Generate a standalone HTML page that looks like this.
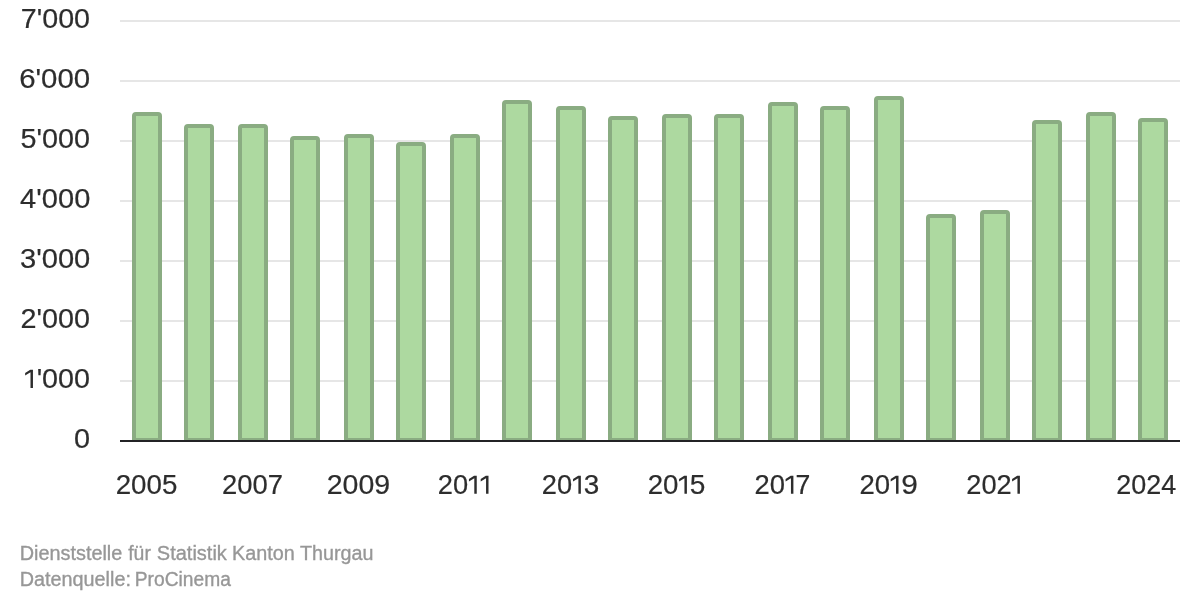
<!DOCTYPE html>
<html lang="de"><head><meta charset="utf-8"><title>Chart</title>
<style>
html,body{margin:0;padding:0;background:#fff;}
body{width:1200px;height:600px;overflow:hidden;}
svg{display:block;will-change:transform;}
text{font-family:"Liberation Sans",sans-serif;}
</style></head><body>
<svg width="1200" height="600" viewBox="0 0 1200 600">
<rect width="1200" height="600" fill="#ffffff"/>
<g>
<rect x="120" y="380" width="1060" height="2" fill="#e6e6e6"/>
<rect x="120" y="320" width="1060" height="2" fill="#e6e6e6"/>
<rect x="120" y="260" width="1060" height="2" fill="#e6e6e6"/>
<rect x="120" y="200" width="1060" height="2" fill="#e6e6e6"/>
<rect x="120" y="140" width="1060" height="2" fill="#e6e6e6"/>
<rect x="120" y="80" width="1060" height="2" fill="#e6e6e6"/>
<rect x="120" y="20" width="1060" height="2" fill="#e6e6e6"/>
</g>
<g fill="#add9a0" stroke="#8aac82" stroke-width="4">
<path d="M134 440V116a2 2 0 0 1 2 -2H158a2 2 0 0 1 2 2V440Z"/>
<path d="M186 440V128a2 2 0 0 1 2 -2H210a2 2 0 0 1 2 2V440Z"/>
<path d="M240 440V128a2 2 0 0 1 2 -2H264a2 2 0 0 1 2 2V440Z"/>
<path d="M292 440V140a2 2 0 0 1 2 -2H316a2 2 0 0 1 2 2V440Z"/>
<path d="M346 440V138a2 2 0 0 1 2 -2H370a2 2 0 0 1 2 2V440Z"/>
<path d="M398 440V146a2 2 0 0 1 2 -2H422a2 2 0 0 1 2 2V440Z"/>
<path d="M452 440V138a2 2 0 0 1 2 -2H476a2 2 0 0 1 2 2V440Z"/>
<path d="M504 440V104a2 2 0 0 1 2 -2H528a2 2 0 0 1 2 2V440Z"/>
<path d="M558 440V110a2 2 0 0 1 2 -2H582a2 2 0 0 1 2 2V440Z"/>
<path d="M610 440V120a2 2 0 0 1 2 -2H634a2 2 0 0 1 2 2V440Z"/>
<path d="M664 440V118a2 2 0 0 1 2 -2H688a2 2 0 0 1 2 2V440Z"/>
<path d="M716 440V118a2 2 0 0 1 2 -2H740a2 2 0 0 1 2 2V440Z"/>
<path d="M770 440V106a2 2 0 0 1 2 -2H794a2 2 0 0 1 2 2V440Z"/>
<path d="M822 440V110a2 2 0 0 1 2 -2H846a2 2 0 0 1 2 2V440Z"/>
<path d="M876 440V100a2 2 0 0 1 2 -2H900a2 2 0 0 1 2 2V440Z"/>
<path d="M928 440V218a2 2 0 0 1 2 -2H952a2 2 0 0 1 2 2V440Z"/>
<path d="M982 440V214a2 2 0 0 1 2 -2H1006a2 2 0 0 1 2 2V440Z"/>
<path d="M1034 440V124a2 2 0 0 1 2 -2H1058a2 2 0 0 1 2 2V440Z"/>
<path d="M1088 440V116a2 2 0 0 1 2 -2H1112a2 2 0 0 1 2 2V440Z"/>
<path d="M1140 440V122a2 2 0 0 1 2 -2H1164a2 2 0 0 1 2 2V440Z"/>
</g>
<rect x="120" y="440" width="1060" height="2" fill="#232325"/>
<g fill="#2d2d2d" stroke="#2d2d2d" stroke-width="0.2" font-size="26.9">
<text x="74.14" y="448.2" textLength="16.05" lengthAdjust="spacingAndGlyphs">0</text>
<text x="36.65" y="388.2" textLength="53.37" lengthAdjust="spacingAndGlyphs">'000</text>
<text x="20.64" y="328.2" textLength="69.47" lengthAdjust="spacingAndGlyphs">2'000</text>
<text x="19.95" y="268.2" textLength="70.38" lengthAdjust="spacingAndGlyphs">3'000</text>
<text x="20.13" y="208.2" textLength="70.20" lengthAdjust="spacingAndGlyphs">4'000</text>
<text x="20.56" y="148.2" textLength="69.47" lengthAdjust="spacingAndGlyphs">5'000</text>
<text x="19.15" y="88.2" textLength="71.09" lengthAdjust="spacingAndGlyphs">6'000</text>
<text x="20.84" y="28.2" textLength="69.23" lengthAdjust="spacingAndGlyphs">7'000</text>
<text x="115.71" y="494.2" textLength="61.69" lengthAdjust="spacingAndGlyphs">2005</text>
<text x="222.13" y="494.2" textLength="60.92" lengthAdjust="spacingAndGlyphs">2007</text>
<text x="326.76" y="494.2" textLength="63.42" lengthAdjust="spacingAndGlyphs">2009</text>
<text x="437.76" y="494.2" textLength="30.33" lengthAdjust="spacingAndGlyphs">20</text>
<text x="541.76" y="494.2" textLength="30.33" lengthAdjust="spacingAndGlyphs">20</text>
<text x="583.82" y="494.2" textLength="15.51" lengthAdjust="spacingAndGlyphs">3</text>
<text x="647.68" y="494.2" textLength="30.81" lengthAdjust="spacingAndGlyphs">20</text>
<text x="689.69" y="494.2" textLength="15.61" lengthAdjust="spacingAndGlyphs">5</text>
<text x="754.48" y="494.2" textLength="30.44" lengthAdjust="spacingAndGlyphs">20</text>
<text x="795.49" y="494.2" textLength="14.82" lengthAdjust="spacingAndGlyphs">7</text>
<text x="859.45" y="494.2" textLength="30.63" lengthAdjust="spacingAndGlyphs">20</text>
<text x="901.38" y="494.2" textLength="16.61" lengthAdjust="spacingAndGlyphs">9</text>
<text x="966.27" y="494.2" textLength="45.39" lengthAdjust="spacingAndGlyphs">202</text>
<text x="1116.28" y="494.2" textLength="59.93" lengthAdjust="spacingAndGlyphs">2024</text>
</g>
<g fill="#2d2d2d">
<path transform="translate(25.15 387.9)" d="M7.8 0V-18.1H5.1L0 -14.9V-12.4L5.35 -15.6V0Z"/>
<path transform="translate(468.95 493.8)" d="M7.8 0V-18.1H5.1L0 -14.9V-12.4L5.35 -15.6V0Z"/>
<path transform="translate(480.70 493.8)" d="M7.8 0V-18.1H5.1L0 -14.9V-12.4L5.35 -15.6V0Z"/>
<path transform="translate(573.05 493.8)" d="M7.8 0V-18.1H5.1L0 -14.9V-12.4L5.35 -15.6V0Z"/>
<path transform="translate(679.10 493.8)" d="M7.8 0V-18.1H5.1L0 -14.9V-12.4L5.35 -15.6V0Z"/>
<path transform="translate(785.60 493.8)" d="M7.8 0V-18.1H5.1L0 -14.9V-12.4L5.35 -15.6V0Z"/>
<path transform="translate(890.70 493.8)" d="M7.8 0V-18.1H5.1L0 -14.9V-12.4L5.35 -15.6V0Z"/>
<path transform="translate(1012.10 493.8)" d="M7.8 0V-18.1H5.1L0 -14.9V-12.4L5.35 -15.6V0Z"/>
</g>
<g fill="#979797" stroke="#979797" stroke-width="0.35" font-size="20">
<text x="19.73" y="559.8" textLength="102.59" lengthAdjust="spacingAndGlyphs">Dienststelle</text>
<text x="128.22" y="559.8" textLength="22.64" lengthAdjust="spacingAndGlyphs">für</text>
<text x="156.80" y="559.8" textLength="70.06" lengthAdjust="spacingAndGlyphs">Statistik</text>
<text x="232.09" y="559.8" textLength="62.70" lengthAdjust="spacingAndGlyphs">Kanton</text>
<text x="299.94" y="559.8" textLength="73.43" lengthAdjust="spacingAndGlyphs">Thurgau</text>
<text x="19.79" y="585.8" textLength="111.12" lengthAdjust="spacingAndGlyphs">Datenquelle:</text>
<text x="134.81" y="585.8" textLength="96.05" lengthAdjust="spacingAndGlyphs">ProCinema</text>
</g>
</svg>
</body></html>
